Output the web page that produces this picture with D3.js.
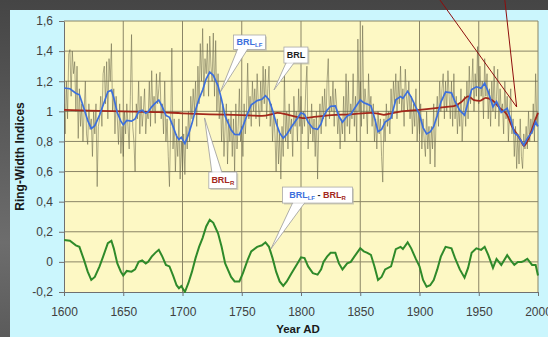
<!DOCTYPE html>
<html lang="en">
<head>
<meta charset="UTF-8" />
<title>Ring-Width Indices BRL</title>
<script src="https://d3js.org/d3.v7.min.js"></script>
<style>
  html, body { margin: 0; padding: 0; }
  body {
    width: 548px; height: 337px; overflow: hidden;
    background: linear-gradient(to bottom, #454545 0%, #6d6d6d 72%, #5b5b5b 100%);
  }
  svg { display: block; font-family: Arial, "Liberation Sans", sans-serif; }
  .axis text { font-size: 12px; fill: #404040; }
  .axis path, .axis line { stroke: #707070; }
</style>
</head>
<body>
<svg id="chart" width="548" height="337"></svg>
<script>
// tick values
const xTicks = [1600, 1650, 1700, 1750, 1800, 1850, 1900, 1950, 2000]
const yTicks = [-0.2, 0, 0.2, 0.4, 0.6, 0.8, 1, 1.2, 1.4, 1.6]

// BRL raw chronology, one value per year from 1600
const brlStart = 1600
const brlRaw = [
  1.05, 0.85, 1.2, 0.95, 1.38, 1.41, 1.1, 1.40, 1.25, 1.33,
  1.0, 1.3, 0.82, 1.15, 0.9, 1.05, 0.8, 1.0, 1.2, 0.85,
  0.78, 1.05, 0.88, 0.95, 0.7, 1.0, 0.85, 1.05, 0.5, 0.9,
  0.95, 1.1, 0.9, 1.25, 1.3, 1.05, 1.33, 0.95, 1.35, 1.2,
  1.45, 1.0, 1.15, 0.85, 1.1, 0.95, 0.78, 1.05, 0.72, 0.9,
  0.7, 1.0, 0.85, 1.05, 0.9, 0.75, 1.1, 1.51, 0.9, 0.8,
  0.6, 1.05, 0.95, 1.2, 0.85, 1.1, 0.9, 1.0, 1.15, 0.85,
  1.0, 0.95, 1.2, 0.9, 1.27, 1.0, 1.1, 0.92, 1.25, 1.05,
  1.15, 1.26, 0.95, 1.05, 0.85, 1.2, 0.8, 0.95, 0.7, 0.5,
  0.9, 1.42, 0.75, 0.95, 0.6, 0.85, 0.7, 0.95, 0.55, 0.8,
  0.6, 0.85, 0.58, 0.9, 0.75, 1.0, 0.8, 1.1, 0.95, 1.15,
  1.0, 1.2, 0.9, 1.3, 1.05, 1.45, 1.2, 1.55, 1.1, 1.35,
  1.25, 1.45, 1.1, 1.5, 1.3, 1.2, 1.52, 1.1, 1.47, 1.0,
  1.25, 0.95, 1.1, 0.8, 1.05, 0.7, 0.9, 1.05, 0.65, 0.95,
  0.8, 1.0, 0.7, 0.95, 0.6, 1.05, 0.75, 0.9, 1.15, 0.8,
  0.9, 0.7, 1.05, 0.85, 1.0, 1.32, 0.95, 1.1, 0.9, 1.2,
  1.0, 1.15, 0.95, 1.25, 1.05, 0.9, 1.2, 1.0, 1.3, 1.05,
  1.28, 0.95, 1.15, 1.3, 0.9, 1.05, 0.8, 1.0, 0.85, 0.6,
  0.95, 0.65, 0.85, 0.55, 0.9, 0.7, 1.25, 0.8, 1.0, 0.75,
  1.05, 0.85, 0.95, 0.7, 1.1, 0.9, 1.0, 0.8, 1.15, 0.9,
  1.1, 0.85, 1.0, 0.9, 1.15, 1.3, 0.75, 0.95, 0.85, 1.05,
  0.8, 0.95, 0.7, 1.0, 0.55, 0.9, 1.05, 0.85, 1.1, 0.95,
  1.15, 0.9, 1.2, 1.35, 0.95, 1.1, 1.0, 1.2, 0.9, 1.15,
  1.05, 0.85, 1.0, 0.75, 0.95, 0.85, 1.1, 0.8, 1.25, 0.9,
  1.2, 0.85, 1.05, 0.95, 1.25, 0.9, 1.1, 0.8, 1.48, 1.0,
  1.2, 0.9, 1.57, 0.95, 1.15, 1.05, 0.85, 1.25, 1.0, 1.1,
  0.9, 1.05, 0.8, 0.95, 0.75, 1.0, 0.85, 0.95, 0.7, 0.53,
  0.95, 0.8, 1.05, 0.9, 1.0, 0.85, 1.15, 0.95, 1.2, 1.05,
  1.25, 0.95, 1.2, 1.05, 1.3, 1.0, 1.15, 0.9, 1.28, 1.1,
  1.0, 1.2, 0.95, 1.1, 0.85, 1.05, 0.9, 1.15, 0.8, 1.0,
  0.85, 1.05, 0.75, 0.95, 0.8, 0.7, 1.0, 0.75, 0.9, 0.65,
  0.9, 0.75, 1.05, 0.63, 0.95, 1.1, 0.9, 1.2, 1.0, 1.15,
  1.25, 0.95, 1.2, 1.0, 1.27, 1.1, 0.95, 1.2, 0.9, 1.25,
  0.95, 1.1, 0.85, 1.05, 0.9, 1.15, 0.8, 1.0, 1.1, 0.9,
  1.2, 0.95, 1.3, 1.05, 1.15, 1.35, 1.0, 1.25, 1.1, 1.43,
  1.05, 1.3, 1.1, 1.2, 0.95, 1.35, 1.1, 1.25, 0.95, 1.15,
  0.9, 1.2, 1.0, 1.3, 0.95, 1.1, 1.28, 0.9, 1.15, 1.0,
  1.05, 0.85, 1.2, 0.95, 1.1, 0.8, 1.0, 1.15, 0.85, 0.95,
  0.7, 0.9, 0.62, 0.85, 0.65, 0.95, 0.7, 0.62, 0.85, 0.75,
  0.9, 0.75, 1.0, 0.8, 0.95, 0.85, 1.05, 0.8, 1.25, 0.9, 1.0
]

// BRL_LF (low frequency), [year, index]
const brlLF = [
  [1600,1.155],[1605,1.15],[1610,1.12],[1613,1.11],[1617,1.015],[1620,0.94],[1623,0.885],
  [1626,0.905],[1630,0.975],[1633,1.04],[1637,1.13],[1640,1.14],[1642,1.09],[1645,0.99],
  [1648,0.935],[1650,0.91],[1653,0.94],[1657,0.935],[1660,0.95],[1663,0.998],[1666,1.007],
  [1669,0.987],[1671,0.997],[1674,1.03],[1677,1.055],[1680,1.075],[1683,1.03],[1686,0.973],
  [1689,0.96],[1692,0.9],[1695,0.835],[1697,0.813],[1699,0.827],[1702,0.786],[1705,0.845],
  [1708,0.92],[1711,1.009],[1714,1.083],[1717,1.142],[1720,1.216],[1723,1.26],[1726,1.239],
  [1730,1.169],[1733,1.078],[1736,0.968],[1741,0.877],[1744,0.846],[1748,0.845],[1751,0.9],
  [1755,0.987],[1758,1.043],[1763,1.071],[1767,1.08],[1770,1.104],[1773,1.077],[1776,1.007],
  [1779,0.923],[1782,0.857],[1785,0.822],[1788,0.848],[1792,0.897],[1797,0.954],[1800,0.99],
  [1803,0.98],[1806,0.928],[1810,0.887],[1814,0.88],[1817,0.918],[1819,0.969],[1822,1.007],
  [1825,1.034],[1829,1.036],[1832,0.967],[1835,0.928],[1839,0.969],[1842,0.98],[1845,1.017],
  [1850,1.075],[1853,1.057],[1856,1.048],[1859,1.037],[1862,0.958],[1865,0.865],[1868,0.88],
  [1871,0.928],[1876,0.956],[1880,1.077],[1884,1.098],[1886,1.086],[1890,1.133],[1893,1.095],
  [1897,1.026],[1900,0.98],[1903,0.892],[1906,0.85],[1909,0.863],[1912,0.9],[1915,0.973],
  [1918,1.06],[1922,1.129],[1927,1.123],[1930,1.064],[1934,1.006],[1938,0.975],[1941,1.06],
  [1944,1.145],[1948,1.163],[1952,1.154],[1955,1.186],[1958,1.13],[1962,1.03],[1965,1.065],
  [1969,0.993],[1974,1.02],[1977,0.947],[1980,0.856],[1983,0.84],[1986,0.8],[1988,0.775],
  [1991,0.82],[1995,0.863],[1998,0.93],[2000,0.9]
]

// BRL_R (regional curve), [year, index]
const brlR = [
  [1600,1.01],[1620,1.005],[1650,1.0],[1680,0.995],[1700,0.987],[1723,0.98],[1750,0.975],
  [1767,0.97],[1775,0.98],[1780,0.99],[1790,0.975],[1803,0.955],[1811,0.963],[1826,0.975],
  [1841,0.98],[1859,0.99],[1865,0.985],[1870,0.977],[1876,0.986],[1885,1.0],[1900,1.01],
  [1912,1.02],[1923,1.03],[1929,1.035],[1935,1.06],[1941,1.1],[1946,1.075],[1951,1.07],
  [1956,1.09],[1962,1.07],[1968,1.02],[1974,0.975],[1978,0.9],[1983,0.84],[1986,0.8],
  [1988,0.77],[1991,0.8],[1994,0.86],[1998,0.95],[2000,0.99]
]

// BRL_LF - BRL_R, [year, difference]
const brlDiff = [
  [1600,0.145],[1605,0.14],[1610,0.11],[1613,0.10],[1617,0.01],[1620,-0.065],[1623,-0.12],
  [1626,-0.10],[1630,-0.03],[1633,0.035],[1637,0.125],[1640,0.14],[1642,0.09],[1645,-0.01],
  [1648,-0.065],[1650,-0.09],[1653,-0.06],[1657,-0.065],[1660,-0.05],[1663,0.0],[1666,0.01],
  [1669,-0.01],[1671,0.0],[1674,0.035],[1677,0.06],[1680,0.08],[1683,0.035],[1686,-0.02],
  [1689,-0.03],[1692,-0.09],[1695,-0.155],[1697,-0.175],[1699,-0.16],[1702,-0.2],[1705,-0.14],
  [1708,-0.065],[1711,0.025],[1714,0.10],[1717,0.16],[1720,0.235],[1723,0.28],[1726,0.26],
  [1730,0.19],[1733,0.10],[1736,-0.01],[1741,-0.10],[1744,-0.13],[1748,-0.13],[1751,-0.075],
  [1755,0.013],[1758,0.07],[1763,0.10],[1767,0.11],[1770,0.13],[1773,0.10],[1776,0.025],
  [1779,-0.065],[1782,-0.13],[1785,-0.16],[1788,-0.13],[1792,-0.075],[1797,-0.01],[1800,0.03],
  [1803,0.025],[1806,-0.03],[1810,-0.075],[1814,-0.085],[1817,-0.05],[1819,0.0],[1822,0.035],
  [1825,0.06],[1829,0.06],[1832,-0.01],[1835,-0.05],[1839,-0.01],[1842,0.0],[1845,0.035],
  [1850,0.09],[1853,0.07],[1856,0.06],[1859,0.047],[1862,-0.03],[1865,-0.12],[1868,-0.10],
  [1871,-0.05],[1876,-0.03],[1880,0.085],[1884,0.10],[1886,0.085],[1890,0.13],[1893,0.09],
  [1897,0.018],[1900,-0.03],[1903,-0.12],[1906,-0.165],[1909,-0.155],[1912,-0.12],[1915,-0.05],
  [1918,0.035],[1922,0.10],[1927,0.09],[1930,0.025],[1934,-0.05],[1938,-0.105],[1941,-0.04],
  [1944,0.06],[1948,0.09],[1952,0.08],[1955,0.10],[1958,0.047],[1962,-0.04],[1965,0.02],
  [1969,-0.02],[1974,0.045],[1977,0.01],[1980,-0.02],[1983,0.0],[1986,0.0],[1988,0.005],
  [1991,0.02],[1995,-0.02],[1998,-0.02],[2000,-0.09]
]

const blue = '#3c6fdc', red = '#a3281b', green = '#2f8a2a'

const svg = d3.select('#chart')

// light panel behind the chart
svg.append('rect')
  .attr('x', 10).attr('y', 10)
  .attr('width', 538).attr('height', 327)
  .attr('fill', '#cbf6fd')

const x = d3.scaleLinear().domain([1600, 2000]).range([64, 538])
const y = d3.scaleLinear().domain([-0.2, 1.6]).range([292, 21])

// plot area
svg.append('rect')
  .attr('x', x(1600)).attr('y', y(1.6))
  .attr('width', x(2000) - x(1600)).attr('height', y(-0.2) - y(1.6))
  .attr('fill', '#fdf8c4')

svg.append('clipPath').attr('id', 'plot-clip')
  .append('rect')
  .attr('x', x(1600)).attr('y', y(1.6) - 1)
  .attr('width', x(2000) - x(1600) + 1).attr('height', y(-0.2) - y(1.6) + 2)

// grid
const grid = svg.append('g').attr('stroke', '#8a8566').attr('stroke-width', 1)
grid.selectAll('line.h')
  .data(yTicks.slice(1))
  .enter().append('line')
  .attr('x1', x(1600)).attr('x2', x(2000))
  .attr('y1', d => y(d)).attr('y2', d => y(d))
grid.selectAll('line.v')
  .data(xTicks.slice(1))
  .enter().append('line')
  .attr('y1', y(-0.2)).attr('y2', y(1.6))
  .attr('x1', d => x(d)).attr('x2', d => x(d))

// axes
svg.append('g')
  .attr('class', 'axis')
  .attr('transform', `translate(0,${y(-0.2)})`)
  .call(d3.axisBottom(x).tickValues(xTicks).tickFormat(d3.format('d'))
    .tickSize(4).tickSizeOuter(0).tickPadding(11))

svg.append('g')
  .attr('class', 'axis')
  .attr('transform', `translate(${x(1600)},0)`)
  .call(d3.axisLeft(y).tickValues(yTicks)
    .tickFormat(d => String(Math.round(d * 10) / 10).replace('.', ','))
    .tickSize(5).tickSizeOuter(0).tickPadding(6))

svg.selectAll('.axis .domain').attr('stroke', '#6a6a6a')

// axis titles
svg.append('text')
  .attr('x', 298).attr('y', 333)
  .attr('text-anchor', 'middle')
  .attr('font-size', 11.5).attr('font-weight', 'bold').attr('fill', '#1a1a1a')
  .text('Year AD')

svg.append('text')
  .attr('transform', `translate(24,${(y(-0.2) + y(1.6)) / 2}) rotate(-90)`)
  .attr('text-anchor', 'middle')
  .attr('font-size', 12).attr('font-weight', 'bold').attr('fill', '#1a1a1a')
  .text('Ring-Width Indices')

// series
const lines = svg.append('g').attr('clip-path', 'url(#plot-clip)')
const line = d3.line().x(d => x(d[0])).y(d => y(d[1]))

lines.append('path')
  .datum(brlRaw.map((v, i) => [brlStart + i, v]))
  .attr('d', line)
  .attr('fill', 'none')
  .attr('stroke', '#646146')
  .attr('stroke-width', 0.7)
  .attr('stroke-opacity', 0.75)

lines.append('path')
  .datum(brlR)
  .attr('d', line.curve(d3.curveMonotoneX))
  .attr('fill', 'none').attr('stroke', red).attr('stroke-width', 1.8)

lines.append('path')
  .datum(brlLF)
  .attr('d', line.curve(d3.curveLinear))
  .attr('fill', 'none').attr('stroke', blue).attr('stroke-width', 1.7)

lines.append('path')
  .datum(brlDiff)
  .attr('d', line)
  .attr('fill', 'none').attr('stroke', green).attr('stroke-width', 2)

// callout labels: box top-left and pointer tip in data units
const callouts = [
  { box: [1743, 1.507], w: 32, h: 14.5, tip: [1731.9, 1.128], base: [4, 14], side: 'bottom',
    parts: [['BRL', blue], ['LF', blue, 'sub']] },
  { box: [1785.6, 1.427], w: 24, h: 16, tip: [1777.2, 1.142], base: [2, 10], side: 'bottom',
    parts: [['BRL', '#1e1e1e']] },
  { box: [1722.2, 0.597], w: 28, h: 16.5, tip: [1718.6, 0.956], base: [3, 13], side: 'top',
    parts: [['BRL', red], ['R', red, 'sub']] },
  { box: [1784.4, 0.497], w: 70, h: 16, tip: [1774.6, 0.086], base: [10, 22], side: 'bottom',
    parts: [['BRL', blue], ['LF', blue, 'sub'], [' - ', '#1e1e1e'], ['BRL', red], ['R', red, 'sub']] }
]

callouts.forEach(c => {
  const bx = x(c.box[0]), by = y(c.box[1])
  const ey = c.side === 'top' ? by : by + c.h
  const g = svg.append('g')
  g.append('rect')
    .attr('x', bx + 1.5).attr('y', by + 1.5)
    .attr('width', c.w).attr('height', c.h)
    .attr('fill', '#b8b8a8').attr('opacity', 0.6)
  g.append('polygon')
    .attr('points', [[bx + c.base[0], ey], [bx + c.base[1], ey], [x(c.tip[0]), y(c.tip[1])]].join(' '))
    .attr('fill', '#ffffff').attr('stroke', '#9a9a9a').attr('stroke-width', 0.8)
  g.append('rect')
    .attr('x', bx).attr('y', by)
    .attr('width', c.w).attr('height', c.h)
    .attr('fill', '#ffffff').attr('stroke', '#a8a8a8').attr('stroke-width', 0.8)
  // cover the pointer base on the box edge
  g.append('line')
    .attr('x1', bx + c.base[0] + 0.6).attr('x2', bx + c.base[1] - 0.6)
    .attr('y1', ey).attr('y2', ey)
    .attr('stroke', '#ffffff').attr('stroke-width', 1.2)
  const t = g.append('text')
    .attr('x', bx + c.w / 2).attr('y', by + c.h / 2 + 3)
    .attr('text-anchor', 'middle')
    .attr('font-size', 9).attr('font-weight', 'bold')
  let shifted = false
  c.parts.forEach(p => {
    const s = t.append('tspan').attr('fill', p[1]).text(p[0])
    if (p[2] === 'sub' && !shifted) { s.attr('dy', 2).attr('font-size', 6); shifted = true }
    else if (p[2] === 'sub') { s.attr('font-size', 6) }
    else if (shifted) { s.attr('dy', -2); shifted = false }
  })
})

// dark red pointer lines coming from above the chart
const pointerTip = [1982, 1.029]
const pointerStarts = [[1917.3, 1.739], [1972, 1.739]]
svg.append('g')
  .selectAll('line')
  .data(pointerStarts)
  .enter().append('line')
  .attr('x1', d => x(d[0])).attr('y1', d => y(d[1]))
  .attr('x2', x(pointerTip[0])).attr('y2', y(pointerTip[1]))
  .attr('stroke', '#8e0d0d').attr('stroke-width', 1)
</script>
</body>
</html>
